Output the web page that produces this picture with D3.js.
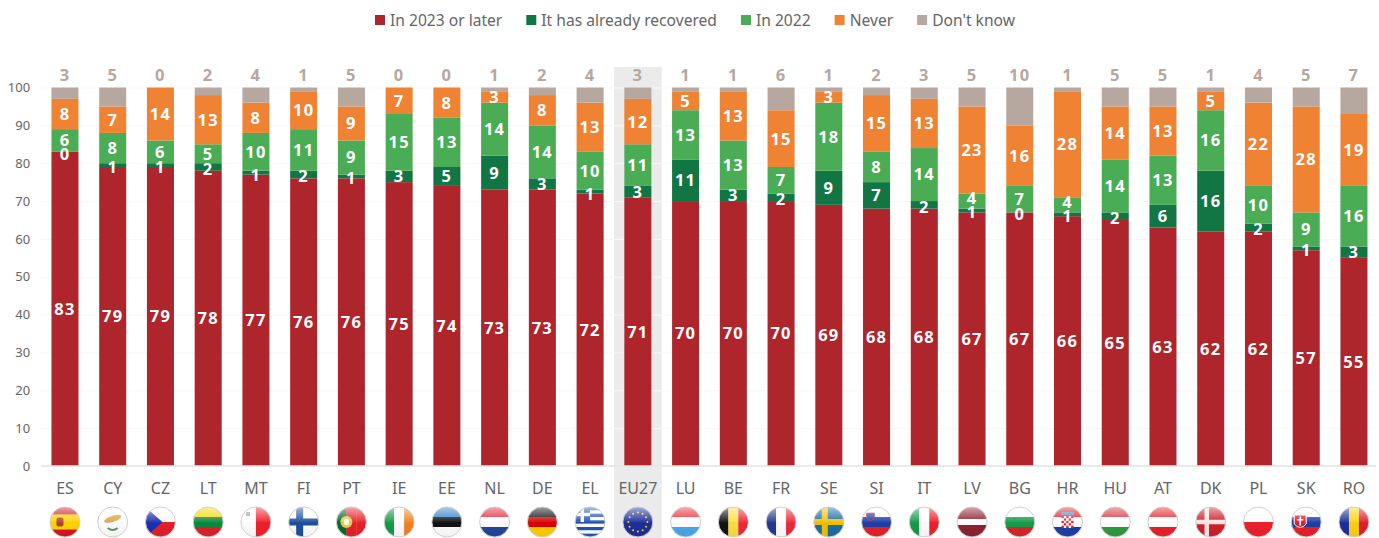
<!DOCTYPE html>
<html>
<head>
<meta charset="utf-8">
<script src="https://cdn.jsdelivr.net/npm/d3@7"></script>
<style>
  html, body { margin: 0; padding: 0; background: #fff; }
  svg { display: block; }
  text { font-family: "Noto Sans", sans-serif; }
</style>
</head>
<body>
<svg width="1379" height="538"></svg>
<script>
var categories = ["ES","CY","CZ","LT","MT","FI","PT","IE","EE","NL","DE","EL","EU27","LU","BE","FR","SE","SI","IT","LV","BG","HR","HU","AT","DK","PL","SK","RO"];

var later     = [83,79,79,78,77,76,76,75,74,73,73,72,71,70,70,70,69,68,68,67,67,66,65,63,62,62,57,55];
var recovered = [0,1,1,2,1,2,1,3,5,9,3,1,3,11,3,2,9,7,2,1,0,1,2,6,16,2,1,3];
var in2022    = [6,8,6,5,10,11,9,15,13,14,14,10,11,13,13,7,18,8,14,4,7,4,14,13,16,10,9,16];
var never     = [8,7,14,13,8,10,9,7,8,3,8,13,12,5,13,15,3,15,13,23,16,28,14,13,5,22,28,19];
var dontKnow  = [3,5,0,2,4,1,5,0,0,1,2,4,3,1,1,6,1,2,3,5,10,1,5,5,1,4,5,7];

var seriesNames = ["In 2023 or later","It has already recovered","In 2022","Never","Don't know"];
var seriesColors = ["#ae252b","#127544","#4aac54","#ef8233","#b6a79f"];
var yTicks = [0,10,20,30,40,50,60,70,80,90,100];

// stripes of each flag, extras are drawn further down
var flagStripes = {
  ES:["h","#d8141e","#ffd400","#ffd400","#d8141e"], CY:["h","#fff"], CZ:["h","#fff","#e3202c"], LT:["h","#f5d800","#0a8a3c","#e0202a"],
  MT:["v","#fff","#f0202a"], FI:["h","#fff"], PT:["v","#0a6a2c","#e8202a","#e8202a"], IE:["v","#159b49","#fff","#f58220"],
  EE:["h","#2f7fc6","#111","#fff"], NL:["h","#e0283a","#fff","#23479b"], DE:["h","#111","#dd0000","#ffce00"], EL:["h","#2255b5","#fff","#2255b5","#fff","#2255b5","#fff","#2255b5","#fff","#2255b5"],
  EU27:["h","#1f2f9c"], LU:["h","#ee2a39","#fff","#4aa8e8"], BE:["v","#111","#fae042","#ed2939"], FR:["v","#1f3a93","#fff","#ed2939"],
  SE:["h","#1d6ea8"], SI:["h","#fff","#1d3fa8","#e8202a"], IT:["v","#159b49","#fff","#f0202a"], LV:["h","#8e2230","#8e2230","#fff","#8e2230","#8e2230"],
  BG:["h","#fff","#159b49","#d8262c"], HR:["h","#e8202a","#fff","#1d3fa8"], HU:["h","#d8303c","#fff","#2f9b3e"], AT:["h","#e8202a","#fff","#e8202a"],
  DK:["h","#d0202c"], PL:["h","#fff","#f0202a"], SK:["h","#fff","#1d3fa8","#e8202a"], RO:["v","#1d2f9c","#fcd116","#e0202c"]
};

var svg = d3.select("svg"),
    margin = {top: 87.5, right: 1, bottom: 72, left: 41.1},
    width = +svg.attr("width") - margin.left - margin.right,
    height = +svg.attr("height") - margin.top - margin.bottom,
    g = svg.append("g").attr("transform", "translate(" + margin.left + "," + margin.top + ")");

var rows = categories.map(function(c, i) {
  var row = {code: c};
  row[seriesNames[0]] = later[i];
  row[seriesNames[1]] = recovered[i];
  row[seriesNames[2]] = in2022[i];
  row[seriesNames[3]] = never[i];
  row[seriesNames[4]] = dontKnow[i];
  return row;
});

var x = d3.scaleBand()
    .domain(categories)
    .range([0, 28 * 47.74])
    .paddingInner(0.434)
    .paddingOuter(0.217);

var y = d3.scaleLinear().domain([0, 100]).range([height, 0]);

var z = d3.scaleOrdinal().domain(seriesNames).range(seriesColors);

// grey band behind the EU average, runs to the bottom of the page
g.append("rect")
    .attr("x", x("EU27") + x.bandwidth() / 2 - x.step() / 2)
    .attr("y", -20.5)
    .attr("width", x.step())
    .attr("height", 538 - 67)
    .attr("fill", "#ebebeb");

// faint grid
g.append("g")
    .call(d3.axisLeft(y).tickValues(yTicks).tickSize(-1335).tickFormat(""))
    .call(function(a) {
      a.select(".domain").remove();
      a.selectAll("line").attr("stroke", "#f8f8f8");
    });

g.append("g")
    .call(d3.axisLeft(y).tickValues(yTicks).tickSize(0).tickPadding(11))
    .call(function(a) {
      a.select(".domain").remove();
      a.selectAll("text").attr("fill", "#666").attr("font-size", 13).style("font-family", "'Noto Sans', sans-serif");
    });

// stacked bars
var stacked = d3.stack().keys(seriesNames)(rows);

g.append("g")
  .selectAll("g")
  .data(stacked)
  .enter().append("g")
    .attr("fill", function(d) { return z(d.key); })
  .selectAll("rect")
  .data(function(d) { return d; })
  .enter().append("rect")
    .attr("x", function(d) { return x(d.data.code); })
    .attr("y", function(d) { return y(d[1]); })
    .attr("height", function(d) { return y(d[0]) - y(d[1]); })
    .attr("width", x.bandwidth());

// baseline
g.append("line")
    .attr("x1", 0).attr("x2", 1335)
    .attr("y1", y(0)).attr("y2", y(0))
    .attr("stroke", "#e4e4e4").attr("stroke-width", 1.5);

// labels of one bar, bottom to top: thin segments drop a little and
// the label above moves up when they get too close
function labelPositions(code) {
  var out = [], prev = null;
  stacked.slice(0, 4).forEach(function(s) {
    var d = s.find(function(e) { return e.data.code === code; }),
        v = d[1] - d[0],
        pos = y((d[0] + d[1]) / 2) + (v <= 2 ? 2 : 0);
    if (prev !== null && prev - pos < 14) pos = prev - 14;
    prev = pos;
    out.push({code: code, value: v, pos: pos});
  });
  return out;
}

var labelFont = function(sel) {
  sel.attr("dy", "0.36em")
    .attr("text-anchor", "middle")
    .attr("font-size", 16.5)
    .attr("font-weight", "bold")
    .attr("letter-spacing", 1.2);
};

// labels sit in their own group so no later bar covers them
g.append("g")
  .selectAll("text")
  .data(d3.merge(categories.map(labelPositions)))
  .enter().append("text")
    .attr("x", function(d) { return x(d.code) + x.bandwidth() / 2; })
    .attr("y", function(d) { return d.pos; })
    .attr("fill", "#fff")
    .call(labelFont)
    .text(function(d) { return d.value; });

// don't know goes above the bar
g.append("g")
  .selectAll("text")
  .data(rows)
  .enter().append("text")
    .attr("x", function(d) { return x(d.code) + x.bandwidth() / 2; })
    .attr("y", y(100) - 12.5)
    .attr("fill", z("Don't know"))
    .call(labelFont)
    .text(function(d) { return d["Don't know"]; });

// category labels
g.append("g")
    .attr("transform", "translate(0," + (height + 22) + ")")
    .call(d3.axisBottom(x).tickSize(0).tickPadding(0))
    .call(function(a) {
      a.select(".domain").remove();
      a.selectAll("text").attr("fill", "#666").attr("font-size", 16).attr("dy", "0.36em").attr("y", 0).style("font-family", "'Noto Sans', sans-serif");
    });

// legend, each entry follows the width of the one before
var legend = svg.append("g").attr("transform", "translate(375,20)");
var cursor = 0;
seriesNames.forEach(function(name) {
  var item = legend.append("g").attr("transform", "translate(" + cursor + ",0)");
  item.append("rect").attr("y", -5).attr("width", 10).attr("height", 10).attr("fill", z(name));
  var label = item.append("text")
      .attr("x", 15)
      .attr("dy", "0.36em")
      .attr("fill", "#666")
      .attr("font-size", 15.6)
      .text(name);
  cursor += 15 + label.node().getComputedTextLength() + 24;
});

// flags
var defs = svg.append("defs");
defs.append("clipPath").attr("id", "flag-clip").append("circle").attr("r", 15);

var gloss = defs.append("linearGradient").attr("id", "gloss").attr("x1", 0).attr("x2", 0).attr("y1", 0).attr("y2", 1);
gloss.append("stop").attr("offset", "0%").attr("stop-color", "#fff").attr("stop-opacity", 0.6);
gloss.append("stop").attr("offset", "48%").attr("stop-color", "#fff").attr("stop-opacity", 0.08);
gloss.append("stop").attr("offset", "55%").attr("stop-color", "#000").attr("stop-opacity", 0.02);
gloss.append("stop").attr("offset", "100%").attr("stop-color", "#000").attr("stop-opacity", 0.05);

var flags = g.append("g")
  .selectAll("g")
  .data(categories)
  .enter().append("g")
    .attr("transform", function(d) { return "translate(" + (x(d) + x.bandwidth() / 2) + "," + (height + 56) + ")"; });

flags.each(function(code) {
  var f = d3.select(this),
      body = f.append("g").attr("clip-path", "url(#flag-clip)"),
      spec = flagStripes[code],
      stripes = spec.slice(1),
      n = stripes.length;
  stripes.forEach(function(c, i) {
    if (spec[0] === "h") body.append("rect").attr("x", -15).attr("width", 30).attr("y", -15 + 30 * i / n).attr("height", 30 / n + 0.3).attr("fill", c);
    else body.append("rect").attr("y", -15).attr("height", 30).attr("x", -15 + 30 * i / n).attr("width", 30 / n + 0.3).attr("fill", c);
  });
  drawFlagExtras(code, body);
  f.append("circle").attr("r", 15).attr("fill", "url(#gloss)");
  f.append("circle").attr("r", 15).attr("fill", "none").attr("stroke", "#cfcfcf").attr("stroke-width", 1);
});

function cross(b, color, cx, w) {
  b.append("rect").attr("x", -15).attr("width", 30).attr("y", -w / 2).attr("height", w).attr("fill", color);
  b.append("rect").attr("y", -15).attr("height", 30).attr("x", cx - w / 2).attr("width", w).attr("fill", color);
}

function shield(b, cx, w, h, fill) {
  b.append("rect").attr("x", cx - w / 2).attr("y", -h / 2).attr("width", w).attr("height", h).attr("rx", 2).attr("fill", fill);
}

function drawFlagExtras(code, b) {
  if (code === "ES") shield(b, -5, 7, 9, "#b5442e");
  if (code === "CY") {
    b.append("ellipse").attr("cx", 1).attr("cy", -3).attr("rx", 9).attr("ry", 3).attr("transform", "rotate(-18)").attr("fill", "#d9a441");
    b.append("path").attr("d", "M-5,6Q0,10 5,6").attr("fill", "none").attr("stroke", "#5d9a6a").attr("stroke-width", 2);
  }
  if (code === "CZ") b.append("path").attr("d", "M-15,-15L2,0L-15,15Z").attr("fill", "#1d2fb0");
  if (code === "MT") b.append("rect").attr("x", -10).attr("y", -10).attr("width", 4).attr("height", 4).attr("fill", "#b0a0a0");
  if (code === "FI") cross(b, "#1d4f9c", -4, 7);
  if (code === "PT") { b.append("circle").attr("cx", -5).attr("r", 6).attr("fill", "#e8d048"); shield(b, -5, 5, 6, "#fff"); }
  if (code === "EL") {
    b.append("rect").attr("x", -15).attr("y", -15).attr("width", 15).attr("height", 15).attr("fill", "#2255b5");
    b.append("rect").attr("x", -9.5).attr("y", -15).attr("width", 3.4).attr("height", 15).attr("fill", "#fff");
    b.append("rect").attr("x", -15).attr("y", -9.2).attr("width", 15).attr("height", 3.4).attr("fill", "#fff");
  }
  if (code === "EU27") {
    d3.range(12).forEach(function(i) {
      var a = i * Math.PI / 6;
      b.append("circle").attr("cx", 9.5 * Math.cos(a)).attr("cy", 9.5 * Math.sin(a)).attr("r", 1).attr("fill", "#f5d800");
    });
  }
  if (code === "SE") cross(b, "#f2c200", -4, 6);
  if (code === "DK") cross(b, "#f4e9e6", -4, 4.5);
  if (code === "SI") { b.append("path").attr("d", "M-10,-9H-2V-4Q-6,1 -10,-4Z").attr("fill", "#1d3fa8").attr("stroke", "#e8202a").attr("stroke-width", 0.7); }
  if (code === "SK") {
    b.append("path").attr("d", "M-12,-7H0V2Q-6,9 -12,2Z").attr("fill", "#e02030").attr("stroke", "#fff").attr("stroke-width", 1);
    b.append("rect").attr("x", -6.8).attr("y", -5.5).attr("width", 1.6).attr("height", 9).attr("fill", "#fff");
    b.append("rect").attr("x", -9).attr("y", -3).attr("width", 6).attr("height", 1.5).attr("fill", "#fff");
  }
  if (code === "HR") {
    d3.range(5).forEach(function(r) {
      d3.range(5).forEach(function(c) {
        b.append("rect").attr("x", -6 + c * 2.4).attr("y", -6 + r * 2.4).attr("width", 2.4).attr("height", 2.4).attr("fill", (r + c) % 2 ? "#fff" : "#e0202c");
      });
    });
    b.append("rect").attr("x", -6.5).attr("y", -10).attr("width", 13).attr("height", 3.5).attr("fill", "#5a86c0");
  }
}
</script>
</body>
</html>
